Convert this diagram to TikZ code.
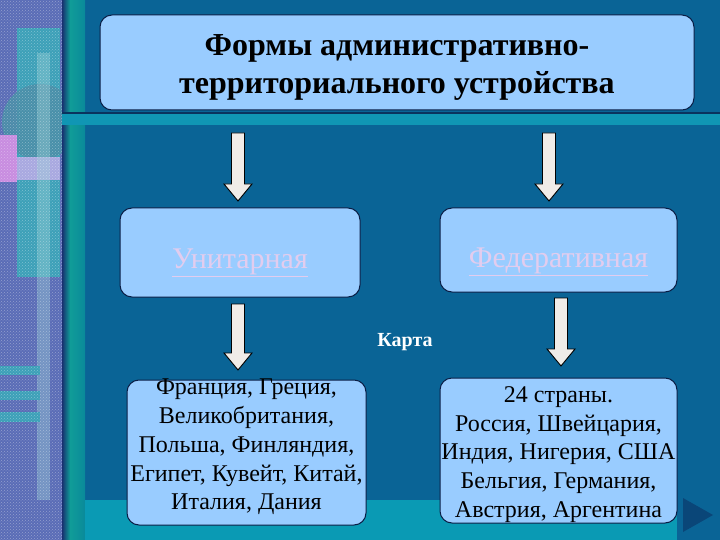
\documentclass[tikz,border=0pt]{standalone}
\usepackage{fontspec}
\setmainfont{Liberation Serif}
\usetikzlibrary{calc,patterns}
\definecolor{bgblue}{HTML}{0A6496}
\definecolor{bandteal}{HTML}{1096B4}
\definecolor{botteal}{HTML}{0A9AB4}
\definecolor{boxfill}{HTML}{99CCFF}
\definecolor{boxline}{HTML}{0A1E46}
\definecolor{arrowfill}{HTML}{F0ECE8}
\definecolor{unitext}{HTML}{E2CCEE}
\definecolor{stripbg}{HTML}{5A6CB6}
\definecolor{stripteal}{HTML}{3CA0B8}
\definecolor{circteal}{HTML}{4A8EA8}
\definecolor{pinkish}{HTML}{C88CE0}
\definecolor{lavender}{HTML}{A8A8E0}
\definecolor{lightbar}{HTML}{9CD0D8}
\definecolor{gdark}{HTML}{183070}
\definecolor{gteal}{HTML}{109C98}
\definecolor{gmid}{HTML}{0A8A9A}
\definecolor{playdark}{HTML}{0A4678}
\tikzset{
  box/.style={draw=boxline, line width=1pt, fill=boxfill, rounded corners=12pt, align=center, inner sep=2pt},
  barrow/.style={draw=black, line width=0.9pt, fill=arrowfill,
    to path={let \p1=(\tikztostart), \p2=(\tikztotarget) in
      (\x1-6.5pt,\y1) -- (\x1+6.5pt,\y1) -- (\x1+6.5pt,\y2+17pt) -- (\x1+14pt,\y2+17pt)
      -- (\x1,\y2) -- (\x1-14pt,\y2+17pt) -- (\x1-6.5pt,\y2+17pt) -- cycle}},
  ttl/.style={font=\fontsize{32}{38}\selectfont\bfseries, text=black, align=center},
  mid/.style={font=\fontsize{30}{34}\selectfont, text=unitext},
  lst/.style={font=\fontsize{24}{28.8}\selectfont, text=black, align=center}
}
\begin{document}
\begin{tikzpicture}[x=1pt,y=-1pt]
\useasboundingbox (0,0) rectangle (720,540);
% background
\fill[bgblue] (0,0) rectangle (720,540);
% left strip
\fill[stripbg] (0,0) rectangle (62,540);
\begin{scope}
\clip (0,0) rectangle (62,540);
\fill[stripteal] (17,28) rectangle (60,277);
\fill[circteal, opacity=0.9] (40,122) circle[radius=38];
\fill[pinkish] (0,135) rectangle (17,182);
\fill[lavender] (17,157) rectangle (60,180);
\fill[lightbar, opacity=0.4] (37,53) rectangle (50,500);
\fill[stripteal] (0,366) rectangle (40,375);
\fill[stripteal] (0,391) rectangle (40,400);
\fill[stripteal] (0,412) rectangle (40,422);
\fill[pattern=crosshatch dots, pattern color=white, opacity=0.35] (0,0) rectangle (62,540);
\end{scope}
% vertical gradient band
\shade[left color=gdark, right color=gteal] (62,0) rectangle (70,540);
\shade[left color=gteal, right color=gmid] (70,0) rectangle (85,540);
% horizontal band
\fill[boxline!70!bgblue] (62,112) rectangle (720,114);
\fill[bandteal] (62,114) rectangle (720,125);
% bottom band
\fill[botteal] (85,500) rectangle (677,540);
% play button
\fill[playdark] (683,498) -- (713,515) -- (683,532) -- cycle;

% boxes
\node[box, minimum width=594pt, minimum height=95pt] (title) at (397,62.5) {};
\node[ttl] (titletext) at ([yshift=-5pt]title.center)
  {Формы административно-\\территориального устройства};
\node[box, minimum width=240pt, minimum height=89pt] (unit) at (240,252.5) {};
\node[mid] (unittext) at ([yshift=-10pt]unit.center) {\underline{Унитарная}};
\node[box, minimum width=237pt, minimum height=84pt] (fed) at (558.5,250) {};
\node[mid] (fedtext) at ([yshift=-12pt]fed.center) {\underline{Федеративная}};
\node[box, minimum width=239pt, minimum height=145pt] (ulist) at (246.5,452.5) {};
\node[lst] (ulisttext) at ([yshift=5.5pt]ulist.center)
  {Франция, Греция,\\Великобритания,\\Польша, Финляндия,\\Египет, Кувейт, Китай,\\Италия, Дания};
\node[box, minimum width=237pt, minimum height=145pt] (flist) at (558.5,450.5) {};
\node[lst] (flisttext) at ([yshift=-4pt]flist.center)
  {24 страны.\\Россия, Швейцария,\\Индия, Нигерия, США\\Бельгия, Германия,\\Австрия, Аргентина};
\node[text=white, font=\fontsize{20}{22}\selectfont\bfseries] (map) at (405,342) {Карта};

% arrows
\coordinate (a1s) at (238,133); \coordinate (a1e) at (238,201);
\coordinate (a2s) at (549,133); \coordinate (a2e) at (549,201);
\coordinate (a3s) at (238,304); \coordinate (a3e) at (238,370);
\coordinate (a4s) at (561,298); \coordinate (a4e) at (561,366);
\draw[barrow] (a1s) to (a1e);
\draw[barrow] (a2s) to (a2e);
\draw[barrow] (a3s) to (a3e);
\draw[barrow] (a4s) to (a4e);
\end{tikzpicture}
\end{document}
